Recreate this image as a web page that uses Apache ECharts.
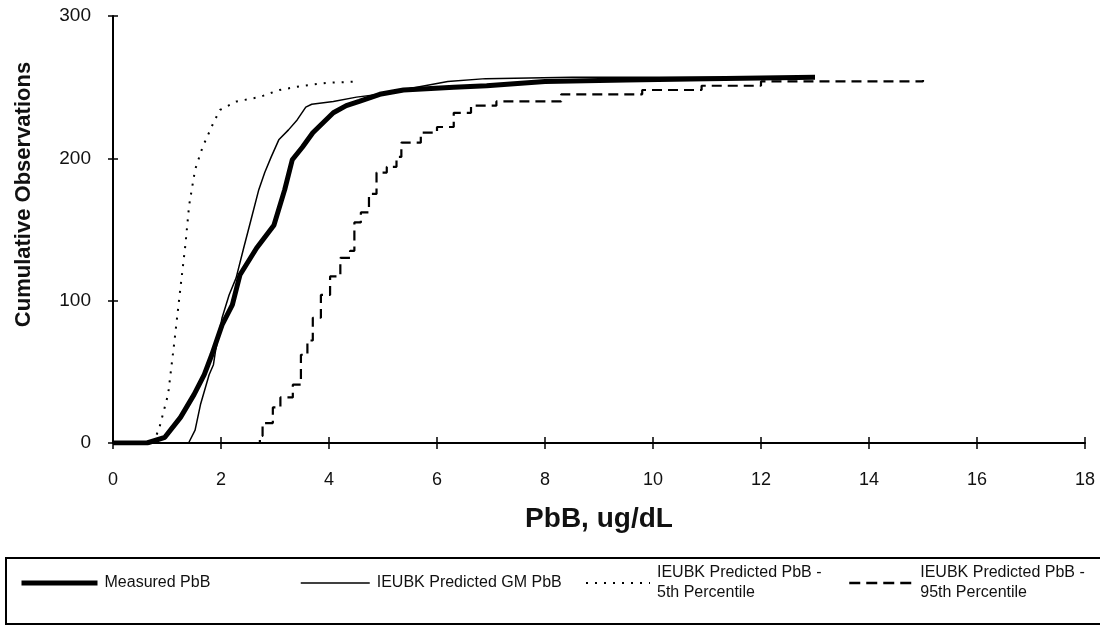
<!DOCTYPE html>
<html>
<head>
<meta charset="utf-8">
<script src="https://cdn.jsdelivr.net/npm/echarts@6/dist/echarts.min.js"></script>
<style>
html, body { margin: 0; padding: 0; background: #fff; }
#main { width: 1100px; height: 634px; }
</style>
</head>
<body>
<div id="main"></div>
<script>
// 累积观测数 [PbB ug/dL, 累计观测数]
var measuredPbB = [
	[0, 0], [0.63, 0], [0.96, 4], [1.25, 18], [1.5, 34], [1.69, 48], [1.83, 62],
	[2.02, 83], [2.21, 97], [2.35, 118], [2.66, 137], [2.98, 153], [3.18, 178],
	[3.32, 199], [3.51, 208], [3.7, 218], [3.89, 225], [4.08, 232], [4.32, 237],
	[4.56, 240], [4.94, 245], [5.38, 248], [6.31, 250], [6.92, 251], [8.0, 254],
	[9.5, 255], [11, 256], [13, 257]
];
var gmPbB = [
	[0, 0], [1.4, 0], [1.52, 9], [1.62, 27], [1.78, 48], [1.86, 55], [1.9, 65],
	[1.96, 76], [2.02, 88], [2.15, 104], [2.28, 116], [2.42, 137], [2.55, 156],
	[2.7, 178], [2.81, 190], [2.93, 201], [3.07, 213], [3.25, 220], [3.41, 227],
	[3.57, 236], [3.68, 238], [4.08, 240], [4.51, 243], [4.94, 245], [5.5, 249],
	[6.2, 254], [6.9, 256], [8.5, 257], [13, 257]
];
var p5PbB = [
	[0.75, 0], [0.86, 11], [1.02, 34], [1.13, 69], [1.27, 116], [1.34, 139],
	[1.41, 167], [1.52, 192], [1.66, 208], [1.86, 225], [1.98, 234], [2.29, 240],
	[2.71, 243], [3.08, 248], [3.52, 251], [3.95, 253], [4.56, 254]
];
var p95PbB = [
	[2.0, 0], [2.6, 0], [2.72, 5], [2.77, 14], [2.96, 25], [3.1, 32], [3.33, 41],
	[3.48, 62], [3.6, 72], [3.7, 88], [3.85, 104], [4.02, 117], [4.21, 130],
	[4.39, 135], [4.47, 155], [4.59, 162], [4.74, 175], [4.88, 190], [5.07, 194],
	[5.25, 201], [5.34, 211], [5.7, 218], [6.0, 222], [6.31, 232], [6.63, 237],
	[7.1, 240], [8.3, 245], [9.8, 248], [10.9, 251], [12, 254], [15, 255]
];
var seriesNames = [
	'Measured PbB',
	'IEUBK Predicted GM PbB',
	'IEUBK Predicted PbB - 5th Percentile',
	'IEUBK Predicted PbB - 95th Percentile'
];

var FONT = "'Liberation Sans', Arial, sans-serif";
var myChart = echarts.init(document.getElementById('main'));

// 图例：每个系列一个 legend，方便逐个定位
function oneLegend(name, left, top, width, multi, lineStyle) {
	return {
		data: [name],
		left: left,
		top: top,
		orient: 'horizontal',
		padding: 0,
		itemWidth: width,
		itemHeight: 14,
		itemGap: 0,
		selectedMode: false,
		itemStyle: { opacity: 0 },
		lineStyle: lineStyle,
		formatter: function(n) { return n.replace(' - ', ' -\n'); },
		textStyle: {
			fontFamily: FONT,
			fontSize: 16,
			color: '#111',
			lineHeight: 20,
			padding: multi ? [20, 0, 0, 2] : [0, 0, 0, 2]
		}
	};
}

var option = {
	backgroundColor: '#fff',
	animation: false,
	grid: {
		left: 113,
		right: 15,
		top: 16,
		bottom: 191
	},
	legend: [
		oneLegend(seriesNames[0], 19, 573, 76, false, { color: '#000', width: 5 }),
		oneLegend(seriesNames[1], 300, 573, 69, false, { color: '#000', width: 1.5 }),
		oneLegend(seriesNames[2], 585, 553, 64, true, { color: '#000', width: 2, type: [2, 7] }),
		oneLegend(seriesNames[3], 848, 553, 64, true, { color: '#000', width: 2.5, type: [11, 6] })
	],
	xAxis: [{
		type: 'value',
		min: 0,
		max: 18,
		interval: 2,
		name: 'PbB, ug/dL',
		nameLocation: 'middle',
		nameGap: 62,
		nameTextStyle: { fontFamily: FONT, fontSize: 28, fontWeight: 'bold', color: '#111' },
		axisLine: { lineStyle: { color: '#000', width: 2 } },
		axisTick: { show: true, length: 6, lineStyle: { color: '#000', width: 1.5 } },
		axisLabel: { margin: 28, fontFamily: FONT, fontSize: 18, color: '#111' },
		splitLine: { show: false }
	}, {
		// 只画内侧刻度，和上面的轴叠成十字刻度
		type: 'value',
		position: 'bottom',
		min: 0,
		max: 18,
		interval: 2,
		axisLine: { show: false },
		axisTick: { show: true, inside: true, length: 6, lineStyle: { color: '#000', width: 1.5 } },
		axisLabel: { show: false },
		splitLine: { show: false }
	}],
	yAxis: [{
		type: 'value',
		min: 0,
		max: 300,
		interval: 100,
		name: 'Cumulative Observations',
		nameLocation: 'middle',
		nameGap: 78,
		nameTextStyle: {
			fontFamily: FONT, fontSize: 22, fontWeight: 'bold', color: '#111',
			padding: [0, 0, 0, 70]
		},
		axisLine: { lineStyle: { color: '#000', width: 2 } },
		axisTick: { show: true, length: 5, lineStyle: { color: '#000', width: 1.5 } },
		axisLabel: { margin: 22, fontFamily: FONT, fontSize: 19, color: '#111' },
		splitLine: { show: false }
	}, {
		type: 'value',
		position: 'left',
		min: 0,
		max: 300,
		interval: 100,
		axisLine: { show: false },
		axisTick: { show: true, inside: true, length: 5, lineStyle: { color: '#000', width: 1.5 } },
		axisLabel: { show: false },
		splitLine: { show: false }
	}],
	// 图例外框
	graphic: [{
		type: 'rect',
		shape: { x: 6, y: 558, width: 1100, height: 66 },
		style: { fill: 'none', stroke: '#000', lineWidth: 2 }
	}],
	series: [{
		name: seriesNames[0],
		type: 'line',
		data: measuredPbB,
		symbol: 'none',
		z: 5,
		lineStyle: { color: '#000', width: 5 }
	}, {
		name: seriesNames[1],
		type: 'line',
		data: gmPbB,
		symbol: 'none',
		z: 4,
		lineStyle: { color: '#000', width: 1.5 }
	}, {
		name: seriesNames[2],
		type: 'line',
		data: p5PbB,
		symbol: 'none',
		z: 3,
		lineStyle: { color: '#000', width: 2, type: [2, 7] }
	}, {
		name: seriesNames[3],
		type: 'line',
		data: p95PbB,
		symbol: 'none',
		step: 'end',
		z: 3,
		lineStyle: { color: '#000', width: 2.2, type: [10, 6] }
	}]
};

myChart.setOption(option);
</script>
</body>
</html>
